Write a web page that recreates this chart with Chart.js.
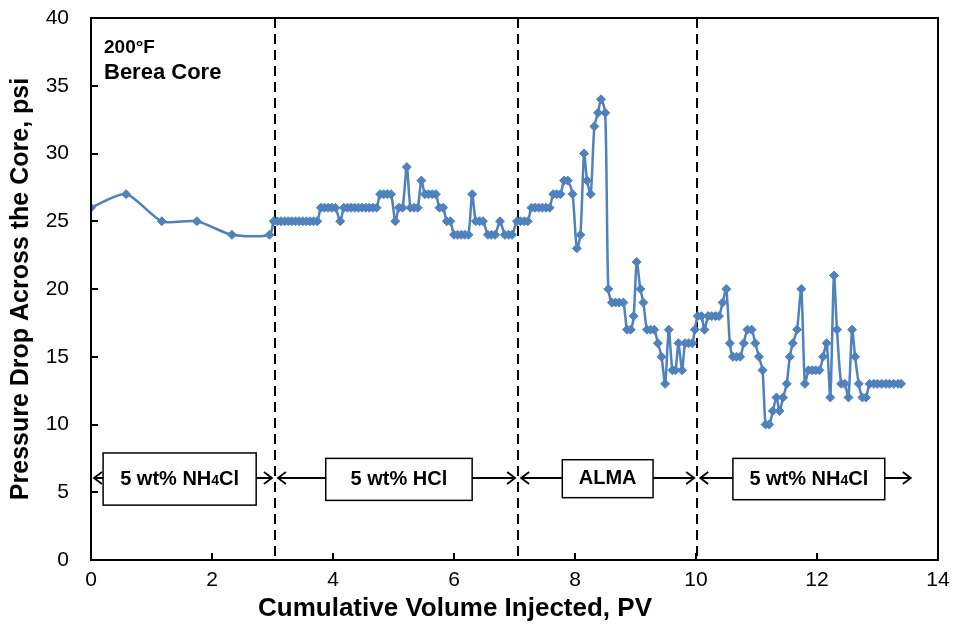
<!DOCTYPE html>
<html>
<head>
<meta charset="utf-8">
<script src="https://cdn.jsdelivr.net/npm/chart.js@4.4.1/dist/chart.umd.min.js"></script>
<style>
  html, body { margin: 0; padding: 0; background: #fff; }
  #wrap { width: 962px; height: 634px; }
</style>
</head>
<body>
<div id="wrap"><canvas id="myChart" width="962" height="634"></canvas></div>
<script>
// cumulative volume injected (PV) and pressure drop (psi)
const pv = [
  0, 0.58, 1.17, 1.75, 2.33, 2.95,
  3.02, 3.08, 3.14, 3.2, 3.26, 3.32, 3.38, 3.44, 3.5, 3.56, 3.62, 3.68, 3.74,
  3.8, 3.86, 3.92, 3.98, 4.04, 4.12, 4.18, 4.24, 4.3, 4.36, 4.42, 4.48, 4.54, 4.6, 4.66, 4.72,
  4.78, 4.84, 4.9, 4.96, 5.03, 5.09, 5.15, 5.22, 5.28, 5.34, 5.4, 5.46, 5.52, 5.58, 5.64, 5.7,
  5.76, 5.82, 5.88, 5.94, 6.0, 6.06, 6.12, 6.18, 6.24, 6.3, 6.36, 6.42, 6.48, 6.56, 6.62, 6.68,
  6.76, 6.84, 6.9, 6.96, 7.04, 7.1, 7.16, 7.22,
  7.28, 7.34, 7.4, 7.46, 7.52, 7.58, 7.64, 7.7, 7.76, 7.82, 7.88, 7.96, 8.03, 8.09, 8.15, 8.2,
  8.26, 8.32, 8.38, 8.43, 8.5, 8.55, 8.61, 8.67, 8.73, 8.8, 8.86, 8.92, 8.97, 9.02, 9.08, 9.13,
  9.19, 9.25, 9.31, 9.37, 9.43, 9.49, 9.55, 9.61, 9.66, 9.71, 9.77, 9.82, 9.88, 9.94, 9.98,
  10.03, 10.09, 10.14, 10.2, 10.26, 10.32, 10.38, 10.44, 10.5, 10.56, 10.61, 10.67, 10.73, 10.79,
  10.85, 10.92, 10.98, 11.04, 11.1, 11.15, 11.21, 11.27, 11.33, 11.38, 11.44, 11.5, 11.55, 11.6,
  11.67, 11.74, 11.8, 11.86, 11.92, 11.98, 12.04, 12.1, 12.16, 12.22, 12.28, 12.33, 12.4, 12.46,
  12.52, 12.58, 12.63, 12.69, 12.75, 12.81, 12.87, 12.94, 13.0, 13.07, 13.14, 13.2, 13.27, 13.34, 13.39
];
const dp = [
  26, 27, 25, 25, 24, 24,
  25, 25, 25, 25, 25, 25, 25, 25, 25, 25, 25, 25, 25,
  26, 26, 26, 26, 26, 25, 26, 26, 26, 26, 26, 26, 26, 26, 26, 26,
  27, 27, 27, 27, 25, 26, 26, 29, 26, 26, 26, 28, 27, 27, 27, 27,
  26, 26, 25, 25, 24, 24, 24, 24, 24, 27, 25, 25, 25, 24, 24, 24,
  25, 24, 24, 24, 25, 25, 25, 25,
  26, 26, 26, 26, 26, 26, 27, 27, 27, 28, 28, 27, 23, 24, 30, 28,
  27, 32, 33, 34, 33, 20, 19, 19, 19, 19, 17, 17, 18, 22, 20, 19,
  17, 17, 17, 16, 15, 13, 17, 14, 14, 16, 14, 16, 16, 16, 17,
  18, 18, 17, 18, 18, 18, 18, 19, 20, 16, 15, 15, 15, 16,
  17, 17, 16, 15, 14, 10, 10, 11, 12, 11, 12, 13, 15, 16,
  17, 20, 13, 14, 14, 14, 14, 15, 16, 12, 21, 17, 13, 13,
  12, 17, 15, 13, 12, 12, 13, 13, 13, 13, 13, 13, 13, 13, 13
];

// injection stages
const stageEdges = [0, 3.04, 7.06, 10.02, 13.6];
const stageLabels = [['5 wt% NH', '4', 'Cl'], ['5 wt% HCl'], ['ALMA'], ['5 wt% NH', '4', 'Cl']];
const boxLeft = [0.2, 3.88, 7.79, 10.61];
const boxRight = [2.73, 6.3, 9.29, 13.12];
const boxTop = [7.9, 7.5, 7.4, 7.5];
const boxBottom = [4.05, 4.4, 4.6, 4.45];
const arrowLevel = 6.05;
const dividers = [3.04, 7.06, 10.02];

const FONT = "'Liberation Sans', Arial, sans-serif";

const overlay = {
  id: 'overlay',
  beforeDatasetsDraw(chart) {
    const { ctx, chartArea: a, scales: { x } } = chart;
    ctx.save();
    ctx.strokeStyle = '#000';
    ctx.lineWidth = 2;
    ctx.setLineDash([10, 6]);
    dividers.forEach(v => {
      const px = Math.round(x.getPixelForValue(v));
      ctx.beginPath();
      ctx.moveTo(px, a.top);
      ctx.lineTo(px, a.bottom);
      ctx.stroke();
    });
    ctx.restore();
  },
  afterDraw(chart) {
    const { ctx, chartArea: a, scales: { x, y } } = chart;
    ctx.save();
    ctx.strokeStyle = '#000';
    ctx.fillStyle = '#000';

    // frame + inward ticks
    ctx.lineWidth = 2;
    ctx.strokeRect(a.left, a.top, a.right - a.left, a.bottom - a.top);
    ctx.beginPath();
    y.ticks.forEach(t => {
      const py = Math.round(y.getPixelForValue(t.value));
      ctx.moveTo(a.left, py); ctx.lineTo(a.left + 7, py);
    });
    x.ticks.forEach(t => {
      const px = Math.round(x.getPixelForValue(t.value));
      ctx.moveTo(px, a.bottom); ctx.lineTo(px, a.bottom - 7);
    });
    ctx.stroke();

    // stage arrows
    const ay = y.getPixelForValue(arrowLevel);
    ctx.lineWidth = 1.8;
    for (let i = 0; i < stageEdges.length - 1; i++) {
      const x0 = x.getPixelForValue(stageEdges[i]) + 3;
      const x1 = x.getPixelForValue(stageEdges[i + 1]) - 3;
      ctx.beginPath();
      ctx.moveTo(x0, ay); ctx.lineTo(x1, ay);
      ctx.moveTo(x0 + 8, ay - 6); ctx.lineTo(x0, ay); ctx.lineTo(x0 + 8, ay + 6);
      ctx.moveTo(x1 - 8, ay - 6); ctx.lineTo(x1, ay); ctx.lineTo(x1 - 8, ay + 6);
      ctx.stroke();
    }

    // stage boxes
    ctx.lineWidth = 1.5;
    ctx.textBaseline = 'middle';
    stageLabels.forEach((parts, i) => {
      const bx0 = x.getPixelForValue(boxLeft[i]);
      const bx1 = x.getPixelForValue(boxRight[i]);
      const by0 = y.getPixelForValue(boxTop[i]);
      const by1 = y.getPixelForValue(boxBottom[i]);
      ctx.fillStyle = '#fff';
      ctx.fillRect(bx0, by0, bx1 - bx0, by1 - by0);
      ctx.strokeRect(bx0, by0, bx1 - bx0, by1 - by0);
      ctx.fillStyle = '#000';
      const fonts = parts.map((p, k) => (k === 1 ? 'bold 14px ' : 'bold 20px ') + FONT);
      let w = 0;
      parts.forEach((p, k) => { ctx.font = fonts[k]; w += ctx.measureText(p).width; });
      let cx = (bx0 + bx1) / 2 - w / 2;
      const cy = (by0 + by1) / 2;
      ctx.textAlign = 'left';
      parts.forEach((p, k) => {
        ctx.font = fonts[k];
        ctx.fillText(p, cx, k === 1 ? cy + 2 : cy);
        cx += ctx.measureText(p).width;
      });
    });

    // condition note
    ctx.textBaseline = 'alphabetic';
    ctx.textAlign = 'left';
    ctx.font = 'bold 19px ' + FONT;
    ctx.fillText('200°F', a.left + 13, a.top + 35);
    ctx.font = 'bold 22px ' + FONT;
    ctx.fillText('Berea Core', a.left + 13, a.top + 61);

    // x axis title
    ctx.textAlign = 'center';
    ctx.font = 'bold 26px ' + FONT;
    ctx.fillText('Cumulative Volume Injected, PV', 455, 616);
    ctx.restore();
  }
};

const ctx = document.getElementById('myChart').getContext('2d');
const myChart = new Chart(ctx, {
  type: 'scatter',
  data: {
    datasets: [{
      label: 'Pressure drop',
      data: pv.map((v, i) => ({ x: v, y: dp[i] })),
      showLine: true,
      borderColor: '#4F81BD',
      backgroundColor: '#4F81BD',
      borderWidth: 2.5,
      tension: 0.25,
      pointStyle: 'rectRot',
      pointRadius: 4.5,
      pointBorderWidth: 1,
      pointBorderColor: '#4F81BD',
      pointBackgroundColor: '#4F81BD'
    }]
  },
  options: {
    responsive: false,
    animation: false,
    devicePixelRatio: 1,
    layout: { autoPadding: false, padding: { top: 18, right: 24, left: 0, bottom: 0 } },
    plugins: { legend: { display: false }, tooltip: { enabled: false } },
    scales: {
      x: {
        type: 'linear', min: 0, max: 14,
        ticks: { stepSize: 2, color: '#000', padding: 8, font: { family: FONT, size: 21 } },
        grid: { display: false, drawTicks: false },
        border: { display: false },
        afterFit: s => { s.height = 74; }
      },
      y: {
        min: 0, max: 40,
        ticks: { stepSize: 5, color: '#000', padding: 3, font: { family: FONT, size: 21 } },
        grid: { display: false, drawTicks: true, tickLength: 19 },
        border: { display: false },
        title: {
          display: true,
          text: 'Pressure Drop Across the Core, psi',
          color: '#000',
          font: { family: FONT, size: 25, weight: 'bold' },
          padding: { top: 6, bottom: 0 }
        },
        afterFit: s => { s.width = 91; }
      }
    }
  },
  plugins: [overlay]
});
</script>
</body>
</html>
